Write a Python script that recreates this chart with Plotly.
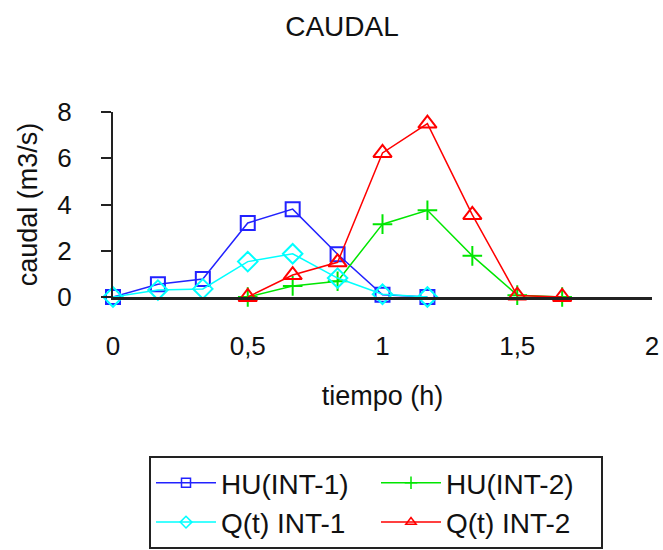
import plotly.graph_objects as go

tiempo = [0, 1/6, 2/6, 3/6, 4/6, 5/6, 1.0, 7/6, 8/6, 9/6, 10/6]

hu1_x = tiempo[:8]
hu1_y = [0, 0.55, 0.78, 3.2, 3.8, 1.85, 0.1, 0.0]

q1_x = tiempo[:8]
q1_y = [0, 0.3, 0.35, 1.53, 1.87, 0.82, 0.12, 0.0]

hu2_x = tiempo[3:]
hu2_y = [0, 0.48, 0.68, 3.15, 3.75, 1.78, 0.08, 0.0]

q2_x = tiempo[3:]
q2_y = [0, 0.95, 1.5, 6.23, 7.5, 3.55, 0.06, 0.0]

series = [
    ("HU(INT-1)", hu1_x, hu1_y, "#2222ff", "square-open", 14),
    ("HU(INT-2)", hu2_x, hu2_y, "#00e600", "cross-thin-open", 14),
    ("Q(t) INT-1", q1_x, q1_y, "#00ffff", "diamond-open", 15),
    ("Q(t) INT-2", q2_x, q2_y, "#ff0000", "triangle-up-open", 16),
]

FONT = "Liberation Sans, Arial, sans-serif"

fig = go.Figure()
for name, xs, ys, col, sym, sz in series:
    fig.add_trace(go.Scatter(
        x=xs, y=ys, name=name, mode="lines+markers", showlegend=False,
        legendgroup=name,
        line=dict(color=col, width=1.5),
        marker=dict(symbol=sym, size=sz, color=col, line=dict(color=col, width=2)),
        cliponaxis=False,
    ))
# legend entries with small markers, as in the reference
for name, xs, ys, col, sym, sz in series:
    fig.add_trace(go.Scatter(
        x=[None], y=[None], name=name, mode="lines+markers", showlegend=True,
        legendgroup=name,
        line=dict(color=col, width=1.5),
        marker=dict(symbol=sym, size=9, color=col, line=dict(color=col, width=1.5)),
    ))

fig.update_layout(
    width=663, height=550,
    margin=dict(l=113, r=11, t=112, b=253, autoexpand=False),
    paper_bgcolor="white", plot_bgcolor="white",
    separators=",.",
    font=dict(family=FONT, size=26, color="#111"),
    title=dict(text="CAUDAL", x=342/663, xref="container", xanchor="center",
               y=1 - 26/550, yref="container", yanchor="middle",
               font=dict(size=28)),
    showlegend=True,
    legend=dict(orientation="h", x=(149-113)/539, xanchor="left",
                y=(297-456)/185, yanchor="top",
                bordercolor="#222", borderwidth=2,
                entrywidth=150, entrywidthmode="pixels",
                itemwidth=60, font=dict(size=28),
                traceorder="normal", tracegroupgap=0),
)

fig.update_xaxes(range=[0, 2], dtick=0.5, tick0=0, showgrid=False, zeroline=False,
                 showline=True, linecolor="#222", linewidth=3, ticks="",
                 ticklabelstandoff=24, tickfont=dict(size=26),
                 title=dict(text="tiempo (h)", standoff=26, font=dict(size=27)),
                 automargin=False)
fig.update_yaxes(range=[0, 8], dtick=2, tick0=0, showgrid=False, zeroline=False,
                 showline=True, linecolor="#222", linewidth=2, ticks="outside",
                 ticklen=10, tickwidth=2, tickcolor="#222",
                 ticklabelstandoff=24, tickfont=dict(size=26),
                 title=dict(text="caudal (m3/s)", standoff=12, font=dict(size=27)),
                 automargin=False)

fig.write_html("out.html")
